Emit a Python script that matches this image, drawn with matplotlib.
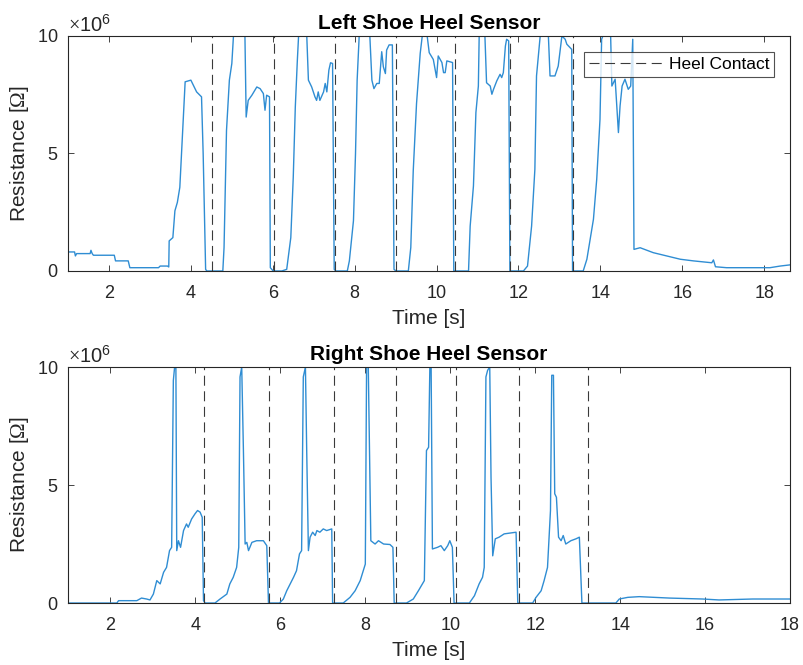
import numpy as np
import matplotlib
matplotlib.use('Agg')
import matplotlib.pyplot as plt
from matplotlib.ticker import ScalarFormatter

plt.rcParams['font.family'] = ['Liberation Sans', 'DejaVu Sans']
plt.rcParams['mathtext.fontset'] = 'custom'
plt.rcParams['mathtext.rm'] = 'Liberation Serif'
plt.rcParams['mathtext.it'] = 'Liberation Serif:italic'

# Left shoe heel sensor: time [s] and resistance [MOhm]
left_t = [1.00, 1.16, 1.18, 1.21, 1.54, 1.56, 1.59, 1.62, 2.13, 2.16, 2.47, 2.51, 3.21, 3.25,
          3.43, 3.46, 3.47, 3.56, 3.61, 3.67, 3.73, 3.78, 3.82, 3.86, 4.00, 4.06, 4.14, 4.26,
          4.30, 4.36, 4.39, 4.78, 4.81, 4.87, 4.94, 5.00, 5.04, 5.32, 5.35, 5.40, 5.49, 5.61,
          5.69, 5.77, 5.81, 5.85, 5.92, 5.94, 6.01, 6.22, 6.34, 6.44, 6.50, 6.55, 6.60, 6.63,
          6.83, 6.87, 6.95, 7.03, 7.07, 7.11, 7.15, 7.24, 7.28, 7.32, 7.37, 7.41, 7.46, 7.50,
          7.54, 7.82, 7.87, 7.97, 8.02, 8.06, 8.11, 8.37, 8.42, 8.47, 8.54, 8.60, 8.66, 8.70,
          8.75, 8.78, 8.84, 8.92, 8.96, 9.01, 9.31, 9.37, 9.43, 9.51, 9.60, 9.65,
          9.77, 9.82, 9.92, 10.00, 10.04, 10.13, 10.17, 10.21, 10.25, 10.39, 10.42, 10.78,
          10.82, 10.90, 10.96, 11.02, 11.04, 11.18, 11.22, 11.31, 11.35, 11.39, 11.47, 11.55,
          11.59, 11.63, 11.68, 11.71, 11.76, 11.79, 12.12, 12.22, 12.32, 12.40, 12.44, 12.53,
          12.73, 12.77, 12.89, 12.97, 13.06, 13.14, 13.18, 13.30, 13.32, 13.58, 13.67, 13.75,
          13.83, 13.91, 13.99, 14.03, 14.06, 14.25, 14.28, 14.36, 14.40, 14.44, 14.48, 14.53,
          14.60, 14.68, 14.74, 14.79, 14.82, 14.97, 15.29, 15.62, 15.95, 16.27, 16.72, 16.76,
          16.81, 17.08, 18.14, 18.39, 18.63]
left_r = [0.81, 0.81, 0.64, 0.74, 0.74, 0.88, 0.74, 0.67, 0.67, 0.43, 0.43, 0.14, 0.14, 0.21,
          0.21, 0.17, 1.28, 1.42, 2.56, 2.92, 3.56, 5.27, 6.62, 8.05, 8.12, 7.91, 7.62, 7.41,
          4.99, 0.07, 0.00, 0.00, 1.00, 5.98, 8.12, 8.83, 10.0, 10.0, 6.55, 7.26, 7.48, 7.83,
          7.76, 7.55, 6.84, 7.48, 7.41, 0.14, 0.00, 0.00, 0.07, 1.42, 3.99, 6.98, 8.97, 10.0,
          10.0, 8.12, 7.83, 7.41, 7.26, 7.62, 7.26, 7.62, 7.98, 7.62, 8.55, 8.86, 8.83, 0.07,
          0.00, 0.00, 0.43, 2.14, 4.99, 8.12, 10.0, 10.0, 8.12, 7.76, 7.98, 7.98, 9.33, 8.69,
          8.40, 9.40, 9.62, 9.62, 0.07, 0.00, 0.00, 1.00, 4.27, 7.12, 9.26, 10.0,
          10.0, 9.29, 9.00, 8.23, 9.15, 8.87, 8.44, 8.44, 8.94, 8.87, 0.00, 0.00,
          1.91, 3.62, 6.74, 7.87, 10.0, 10.0, 8.01, 7.87, 7.52, 7.73, 8.09, 8.37,
          8.23, 8.44, 9.57, 9.86, 9.79, 0.00, 0.00, 0.21, 1.91, 4.33, 8.30, 10.0,
          10.0, 8.30, 8.30, 8.72, 10.0, 9.86, 9.65, 9.43, 0.00, 0.00, 0.50, 1.35,
          2.20, 3.90, 6.45, 9.86, 10.0, 10.0, 7.87, 8.16, 7.02, 5.89, 7.02, 7.87,
          8.16, 7.73, 7.87, 9.86, 0.92, 0.99, 0.78, 0.64, 0.50, 0.43, 0.35, 0.47,
          0.18, 0.14, 0.14, 0.21, 0.26]

# Right shoe heel sensor: time [s] and resistance [MOhm]
right_t = [1.00, 2.15, 2.19, 2.62, 2.73, 2.85, 2.93, 3.01, 3.09, 3.17, 3.25, 3.32, 3.39, 3.44,
           3.48, 3.51, 3.54, 3.56, 3.60, 3.65, 3.72, 3.79, 3.83, 3.91, 3.99, 4.05, 4.11, 4.16,
           4.19, 4.23, 4.46, 4.58, 4.74, 4.81, 4.89, 4.97, 5.02, 5.05, 5.09, 5.13, 5.17, 5.21,
           5.25, 5.33, 5.44, 5.60, 5.68, 5.72, 5.98, 6.07, 6.15, 6.23, 6.31, 6.38, 6.45, 6.50,
           6.54, 6.59, 6.62, 6.66, 6.70, 6.76, 6.82, 6.86, 6.93, 7.01, 7.09, 7.21, 7.23, 7.48,
           7.64, 7.76, 7.88, 8.00, 8.03, 8.07, 8.13, 8.23, 8.31, 8.43, 8.58, 8.65, 8.68, 8.97,
           9.13, 9.25, 9.39, 9.44, 9.49, 9.52, 9.55, 9.58, 9.70, 9.78, 9.86, 9.94, 9.99, 10.05,
           10.09, 10.45, 10.57, 10.68, 10.76, 10.80, 10.84, 10.88, 10.93, 10.96, 11.00, 11.06,
           11.15, 11.27, 11.39, 11.55, 11.59, 11.94, 12.02, 12.14, 12.21, 12.29, 12.36, 12.39,
           12.43, 12.46, 12.50, 12.55, 12.61, 12.66, 12.72, 12.84, 12.96, 13.04, 13.10, 13.90,
           13.98, 14.18, 14.45, 15.16, 15.94, 16.33, 17.12, 18.00]
right_r = [0.00, 0.00, 0.10, 0.10, 0.21, 0.17, 0.13, 0.38, 0.95, 0.81, 1.30, 1.51, 2.22, 2.36,
           9.43, 10.0, 10.0, 2.22, 2.64, 2.36, 3.07, 3.35, 3.21, 3.56, 3.78, 3.92, 3.85, 3.63,
           0.10, 0.00, 0.00, 0.17, 0.38, 0.81, 1.09, 1.51, 2.36, 9.58, 10.0, 6.46, 2.50, 2.57,
           2.22, 2.57, 2.64, 2.64, 2.43, 0.00, 0.00, 0.17, 0.52, 0.81, 1.09, 1.37, 2.08, 2.22,
           9.58, 10.0, 6.46, 2.22, 2.79, 3.00, 2.86, 3.07, 3.00, 3.14, 3.07, 3.14, 0.00, 0.00,
           0.24, 0.52, 0.95, 1.65, 10.0, 10.0, 2.64, 2.50, 2.64, 2.50, 2.48, 2.36, 0.00, 0.00,
           0.17, 0.52, 0.95, 6.46, 6.60, 10.0, 10.0, 2.29, 2.36, 2.43, 2.22, 2.43, 2.64, 2.36,
           0.00, 0.00, 0.31, 0.81, 1.09, 1.51, 9.58, 9.86, 10.0, 5.33, 2.00, 2.72,
           2.79, 2.93, 2.96, 3.00, 0.00, 0.00, 0.24, 0.52, 0.95, 1.51, 3.92, 9.65,
           9.65, 4.63, 4.48, 2.79, 2.64, 2.86, 2.50, 2.64, 2.72, 2.79, 0.00, 0.00,
           0.17, 0.24, 0.27, 0.21, 0.17, 0.13, 0.17, 0.17]

# Heel contact instants [s]
left_contacts = [4.52, 6.04, 7.52, 9.00, 10.45, 11.79, 13.32]
right_contacts = [4.21, 5.73, 7.26, 8.72, 10.14, 11.61, 13.24]

line_color = '#2f8dd3'
axis_color = '#262626'

fig = plt.figure(figsize=(8.04, 6.65), dpi=100)
ax_top = fig.add_axes([0.0846, 0.5925, 0.898, 0.3534])
ax_bot = fig.add_axes([0.0846, 0.0932, 0.898, 0.3549])

panels = [
    (ax_top, left_t, left_r, left_contacts, 'Left Shoe Heel Sensor', 18.63),
    (ax_bot, right_t, right_r, right_contacts, 'Right Shoe Heel Sensor', 18.0),
]

for ax, t, r, contacts, title, tmax in panels:
    ax.plot(t, np.array(r) * 1e6, color=line_color, lw=1.0)
    for i, c in enumerate(contacts):
        ax.axvline(c, color='#3a3a3a', lw=0.8, dashes=(9, 5),
                   label='Heel Contact' if i == 0 else None)

    ax.set_xlim(1, tmax)
    ax.set_ylim(0, 1e7)
    ax.set_xticks(np.arange(2, 19, 2))
    ax.set_yticks([0, 5e6, 1e7])
    # fixed 10^6 multiplier on the y axis
    fmt = ScalarFormatter(useMathText=True)
    fmt.set_powerlimits((6, 6))
    ax.yaxis.set_major_formatter(fmt)
    ax.yaxis.get_offset_text().set_fontsize(14.5)
    ax.yaxis.get_offset_text().set_color(axis_color)

    ax.tick_params(direction='in', top=True, right=True, length=4.5, width=0.6,
                   labelsize=13, colors=axis_color)
    ax.tick_params(axis='x', pad=10)
    ax.tick_params(axis='y', pad=7)
    for s in ax.spines.values():
        s.set_color(axis_color)
        s.set_linewidth(0.8)

    ax.set_xlabel('Time [s]', fontsize=15, color=axis_color, labelpad=5)
    ax.set_ylabel(r'Resistance [$\Omega$]', fontsize=15, color=axis_color, labelpad=4)
    ax.set_title(title, fontsize=15, fontweight='bold', color='black', pad=5)

leg = ax_top.legend(loc='upper right', fontsize=12.5, handlelength=4.3,
                    frameon=True, fancybox=False, borderaxespad=0.9,
                    borderpad=0.3, handletextpad=0.3)
leg.get_frame().set_edgecolor(axis_color)
leg.get_frame().set_linewidth(0.8)

fig.savefig('out.png', dpi=100)
